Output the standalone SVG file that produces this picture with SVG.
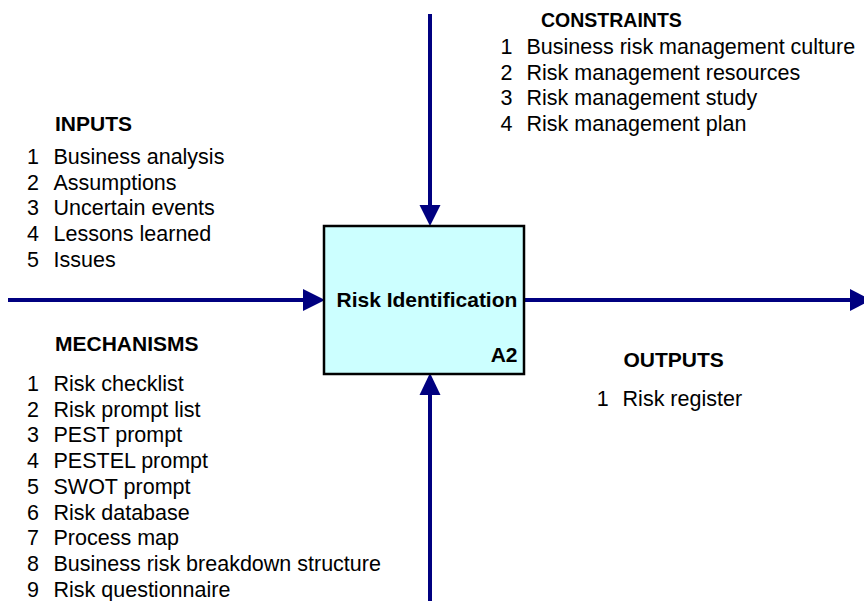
<svg xmlns="http://www.w3.org/2000/svg" width="864" height="601" viewBox="0 0 864 601">
<style>
text{font-family:"Liberation Sans",Arial,Helvetica,sans-serif;font-size:21.5px;fill:#000}
.h{font-weight:bold;font-size:21px}
.ln{stroke:#000080;stroke-width:4;fill:none}
.ah{fill:#000080}
</style>
<rect width="864" height="601" fill="#fff"/>
<g id="connectors">
<line class="ln" x1="430" y1="14" x2="430" y2="208"/>
<polygon class="ah" points="419.5,205 440.5,205 430,226"/>
<line class="ln" x1="8" y1="300" x2="306" y2="300"/>
<polygon class="ah" points="303,289 303,311 325,300"/>
<line class="ln" x1="524" y1="300" x2="853" y2="300"/>
<polygon class="ah" points="850,289 850,311 871,300"/>
<line class="ln" x1="430" y1="392" x2="430" y2="601"/>
<polygon class="ah" points="419.5,395 440.5,395 430,373"/>
</g>
<g id="node-a2">
<rect x="324" y="226" width="200" height="148" fill="#ccffff" stroke="#000" stroke-width="2.5"/>
<text class="h" x="336.5" y="306.5">Risk Identification</text>
<text class="h" x="517.5" y="362" text-anchor="end">A2</text>
</g>
<g id="inputs">
<text class="h" x="55" y="131">INPUTS</text>
<text x="27" y="164">1</text><text x="53.5" y="164">Business analysis</text>
<text x="27" y="189.7">2</text><text x="53.5" y="189.7">Assumptions</text>
<text x="27" y="215.4">3</text><text x="53.5" y="215.4">Uncertain events</text>
<text x="27" y="241.1">4</text><text x="53.5" y="241.1">Lessons learned</text>
<text x="27" y="266.8">5</text><text x="53.5" y="266.8">Issues</text>
</g>
<g id="mechanisms">
<text class="h" x="55" y="351">MECHANISMS</text>
<text x="27" y="391">1</text><text x="53.5" y="391">Risk checklist</text>
<text x="27" y="416.7">2</text><text x="53.5" y="416.7">Risk prompt list</text>
<text x="27" y="442.4">3</text><text x="53.5" y="442.4">PEST prompt</text>
<text x="27" y="468.1">4</text><text x="53.5" y="468.1">PESTEL prompt</text>
<text x="27" y="493.8">5</text><text x="53.5" y="493.8">SWOT prompt</text>
<text x="27" y="519.5">6</text><text x="53.5" y="519.5">Risk database</text>
<text x="27" y="545.2">7</text><text x="53.5" y="545.2">Process map</text>
<text x="27" y="570.9">8</text><text x="53.5" y="570.9">Business risk breakdown structure</text>
<text x="27" y="596.6">9</text><text x="53.5" y="596.6">Risk questionnaire</text>
</g>
<g id="constraints">
<text class="h" x="541" y="27" style="font-size:19.5px">CONSTRAINTS</text>
<text x="500.5" y="54">1</text><text x="526.5" y="54">Business risk management culture</text>
<text x="500.5" y="79.7">2</text><text x="526.5" y="79.7">Risk management resources</text>
<text x="500.5" y="105.4">3</text><text x="526.5" y="105.4">Risk management study</text>
<text x="500.5" y="131.1">4</text><text x="526.5" y="131.1">Risk management plan</text>
</g>
<g id="outputs">
<text class="h" x="623.5" y="367">OUTPUTS</text>
<text x="596.7" y="406">1</text><text x="622.6" y="406">Risk register</text>
</g>
</svg>
